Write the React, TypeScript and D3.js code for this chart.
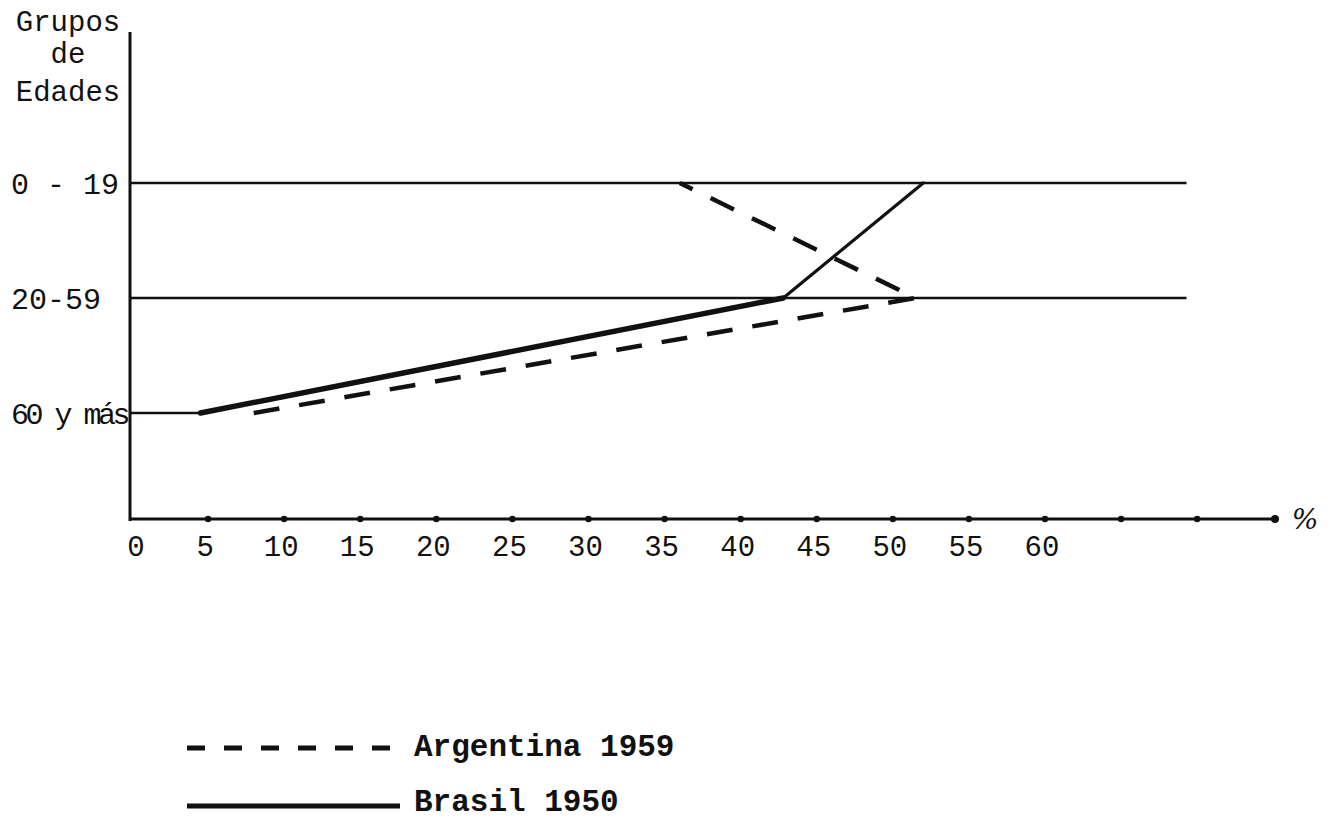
import { line, scaleLinear, scalePoint } from "d3";

// grupos de edades, de arriba hacia abajo
const ageGroups = ["0 - 19", "20-59", "60 y más"];
const argentina1959 = [36, 51.5, 8];
const brasil1950 = [52, 42.8, 4.5];

const tickValues = [5, 10, 15, 20, 25, 30, 35, 40, 45, 50, 55, 60, 65, 70];
const tickLabels = [0, 5, 10, 15, 20, 25, 30, 35, 40, 45, 50, 55, 60];
const gridEnd = 69.3;

const W = 1336;
const H = 820;
const ink = "#111";
const mono = "'Liberation Mono', 'DejaVu Sans Mono', monospace";

export default function App() {
  const x = scaleLinear().domain([0, 60]).range([132, 1045]);
  const y = scalePoint<string>().domain(ageGroups).range([183, 413]);
  const axisY = 519;
  const axisX = 130;

  const pts = (vals: number[]) =>
    vals.map((v, i) => [x(v), y(ageGroups[i])!] as [number, number]);
  const path = line<[number, number]>();

  const arg = pts(argentina1959).reverse();
  const bra = pts(brasil1950).reverse();
  const guideEnds = [gridEnd, gridEnd, brasil1950[2]];

  const legend = [
    { label: "Argentina 1959", dash: "18 19", y: 748, ty: 756 },
    { label: "Brasil 1950", dash: "none", y: 806, ty: 811 },
  ];

  return (
    <svg
      width={W}
      height={H}
      style={{ position: "absolute", left: 0, top: 0, background: "#fff" }}
    >
      {/* título del eje vertical */}
      <g fontFamily={mono} fontSize={29} fill={ink} textAnchor="middle">
        <text x={68} y={31}>Grupos</text>
        <text x={68} y={63}>de</text>
        <text x={68} y={101}>Edades</text>
      </g>

      {/* líneas de cada grupo */}
      {ageGroups.map((g, i) => (
        <line
          key={g}
          x1={axisX}
          x2={x(guideEnds[i])}
          y1={y(g)}
          y2={y(g)}
          stroke={ink}
          strokeWidth={2.5}
        />
      ))}
      <g fontFamily={mono} fontSize={30} fill={ink}>
        {ageGroups.map((g) => (
          <text
            key={g}
            x={11}
            y={y(g)! + 11}
            letterSpacing={g.length > 6 ? -3.5 : 0}
          >
            {g}
          </text>
        ))}
      </g>

      {/* ejes */}
      <line x1={axisX} x2={axisX} y1={32} y2={axisY + 2} stroke={ink} strokeWidth={3} />
      <line x1={axisX} x2={1275} y1={axisY} y2={axisY} stroke={ink} strokeWidth={3} />
      <circle cx={1275} cy={axisY} r={4} fill={ink} />
      {tickValues.map((t) => (
        <circle key={t} cx={x(t)} cy={axisY} r={3.2} fill={ink} />
      ))}
      <g fontFamily={mono} fontSize={29} fill={ink} textAnchor="middle">
        {tickLabels.map((t) => (
          <text key={t} x={x(t) + (t === 0 ? 4 : -3)} y={556}>
            {t}
          </text>
        ))}
      </g>
      <text
        x={1305}
        y={529}
        fontFamily="'DejaVu Serif', serif"
        fontStyle="italic"
        fontSize={28}
        fill={ink}
        textAnchor="middle"
      >
        %
      </text>

      {/* Brasil 1950 */}
      <path d={path([bra[0], bra[1]]) ?? ""} fill="none" stroke={ink} strokeWidth={5.5} strokeLinecap="round" />
      <path d={path([bra[1], bra[2]]) ?? ""} fill="none" stroke={ink} strokeWidth={3.2} strokeLinecap="round" />

      {/* Argentina 1959 */}
      <path
        d={path(arg) ?? ""}
        fill="none"
        stroke={ink}
        strokeWidth={4.5}
        strokeDasharray="26 20"
        strokeLinejoin="round"
      />

      {/* leyenda */}
      {legend.map((l) => (
        <g key={l.label}>
          <line
            x1={187}
            x2={400}
            y1={l.y}
            y2={l.y}
            stroke={ink}
            strokeWidth={5}
            strokeDasharray={l.dash}
          />
          <text
            x={414}
            y={l.ty}
            fontFamily={mono}
            fontWeight="bold"
            fontSize={31}
            fill={ink}
          >
            {l.label}
          </text>
        </g>
      ))}
    </svg>
  );
}
